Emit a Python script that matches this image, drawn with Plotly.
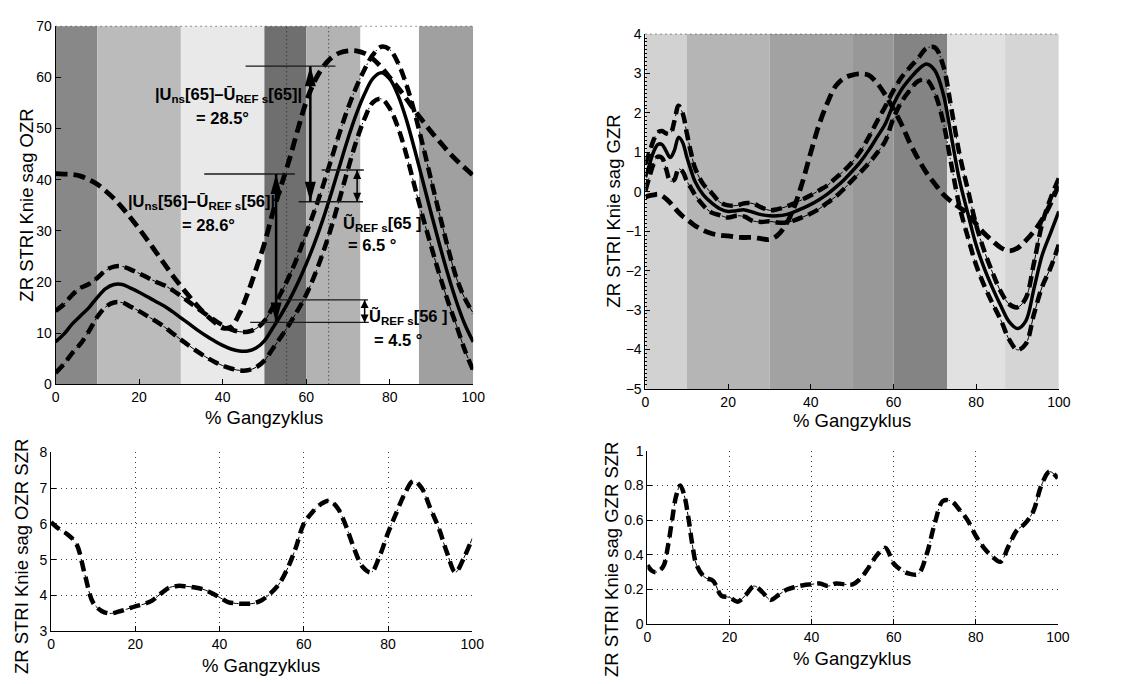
import plotly.graph_objects as go

W, H = 1127, 684
FONT = "Liberation Sans, Arial, Helvetica, sans-serif"

# ------------------------------------------------------------------ data
# left column: knee sagittal OZR (x = % gait cycle)
x_left = list(range(0, 101, 2))
ozr_mean = [8.3, 9.8, 11.8, 13.4, 15.0, 17.0, 18.7, 19.5, 19.5, 18.8,
            18.0, 17.1, 16.2, 15.3, 14.2, 13.0, 11.8, 10.6, 9.5, 8.5,
            7.6, 6.9, 6.5, 6.5, 7.1, 8.5, 11.0, 13.6, 16.5, 19.8,
            23.5, 27.6, 32.2, 37.3, 42.7, 48.0, 52.8, 56.8, 59.8, 60.9,
            59.7, 56.5, 51.7, 45.8, 39.5, 33.2, 27.1, 21.3, 16.1, 11.7, 8.3]
ozr_sd = [6.05, 5.85, 5.7, 5.45, 4.6, 3.8, 3.57, 3.5, 3.55, 3.62,
          3.7, 3.76, 3.86, 4.05, 4.22, 4.27, 4.26, 4.23, 4.18, 4.08,
          3.95, 3.82, 3.78, 3.77, 3.78, 3.87, 4.05, 4.3, 4.72, 5.3,
          6.0, 6.32, 6.55, 6.65, 6.45, 5.95, 5.3, 4.8, 4.65, 5.1,
          5.75, 6.32, 6.85, 7.2, 7.0, 6.45, 5.9, 5.2, 4.65, 5.05, 5.6]
ozr_patient = [41.2, 41.1, 41.0, 40.7, 40.0, 39.1, 37.8, 36.3, 34.5, 32.5,
               30.4, 28.2, 25.9, 23.6, 21.3, 19.2, 17.2, 15.3, 13.6, 12.2,
               11.0, 11.2, 13.8, 17.8, 22.5, 27.5, 33.5, 38.8, 44.0, 49.8,
               55.2, 59.2, 62.0, 63.8, 64.8, 65.2, 65.2, 64.7, 63.6, 62.0,
               60.0, 58.0, 55.8, 53.5, 51.4, 49.3, 47.4, 45.5, 43.8, 42.3, 40.8]

# right column: knee sagittal GZR
x_right = list(range(0, 13)) + list(range(14, 101, 2))
gzr_mean = [0.37, 0.7, 1.02, 1.2, 1.2, 1.03, 0.87, 1.05, 1.38, 1.25, 0.88, 0.55, 0.26,
            -0.08, -0.28, -0.43, -0.5, -0.48, -0.46, -0.52, -0.58, -0.61, -0.61,
            -0.58, -0.51, -0.42, -0.32, -0.2, -0.06, 0.11, 0.3, 0.52, 0.76,
            1.05, 1.38, 1.72, 2.22, 2.6, 2.87, 3.1, 3.24, 3.08, 2.5,
            1.4, 0.28, -0.55, -1.35, -1.95, -2.45, -2.9, -3.3, -3.47, -3.28,
            -2.45, -1.6, -1.05, -0.5]
gzr_sd = [0.34, 0.31, 0.30, 0.31, 0.34, 0.45, 0.6, 0.74, 0.80, 0.74, 0.61, 0.45, 0.34,
          0.27, 0.25, 0.165, 0.155, 0.13, 0.17, 0.22, 0.185, 0.14, 0.17,
          0.2, 0.215, 0.225, 0.23, 0.235, 0.22, 0.235, 0.23, 0.23, 0.265,
          0.33, 0.4, 0.44, 0.35, 0.31, 0.29, 0.29, 0.4, 0.58, 0.71,
          0.71, 0.66, 0.6, 0.51, 0.44, 0.39, 0.36, 0.45, 0.54, 0.58,
          0.65, 0.8, 0.88, 0.84]
gzr_patient = [-0.13, -0.1, -0.08, -0.06, -0.1, -0.18, -0.28, -0.4, -0.52, -0.62, -0.7, -0.78, -0.86,
               -0.98, -1.06, -1.1, -1.12, -1.15, -1.16, -1.16, -1.19, -1.21, -1.1,
               -0.83, -0.38, 0.25, 1.0, 1.7, 2.25, 2.68, 2.88, 2.96, 2.99,
               2.96, 2.76, 2.46, 2.1, 1.7, 1.23, 0.83, 0.48, 0.2, -0.06,
               -0.25, -0.4, -0.56, -0.82, -1.06, -1.25, -1.42, -1.5, -1.43, -1.24,
               -1.0, -0.7, -0.3, 0.18]

# gait phase boundaries (% gait cycle) and their shading
phase_edges = [0, 10, 30, 50, 60, 73, 87, 100]
ozr_phase_colors = ["#888888", "#bbbbbb", "#e9e9e9", "#6f6f6f", "#b3b3b3", "#ffffff", "#a0a0a0"]
gzr_phase_colors = ["#d2d2d2", "#b5b5b5", "#a2a2a2", "#989898", "#848484", "#e1e1e1", "#d5d5d5"]

marker_x = [55.3, 65.4]          # sample positions 56 and 65 (dotted markers)

x_ticks = [0, 20, 40, 60, 80, 100]
x_title = "% Gangzyklus"
y_titles = ["ZR STRI Knie sag OZR", "ZR STRI Knie sag GZR",
            "ZR STRI Knie sag OZR SZR", "ZR STRI Knie sag GZR SZR"]

# ------------------------------------------------------------------ layout helpers
def dom_x(p0, p1):
    return [p0 / W, p1 / W]

def dom_y(top, bottom):
    return [1 - bottom / H, 1 - top / H]

boxes = {  # pixel boxes: left, right, top, bottom
    1: (52.3, 476.0, 18.7, 385.3),
    2: (650.7, 1070.0, 26.7, 390.0),
    3: (47.7, 475.0, 455.0, 638.3),
    4: (652.7, 1069.0, 453.3, 631.0),
}

def ax(**kw):
    d = dict(showline=True, linecolor="black", linewidth=1, ticks="inside", ticklen=5,
             tickcolor="black", tickwidth=1, mirror=False, zeroline=False, showgrid=False,
             tickfont=dict(family=FONT, size=14, color="black"), fixedrange=True)
    d.update(kw)
    return d

grid = dict(showgrid=True, gridcolor="#3a3a3a", gridwidth=1, griddash="1px,4px")

fig = go.Figure()

thick_dash = dict(color="black", width=4.5, dash="11px,6px", shape="spline")
thin_dashdot = dict(color="black", width=1, dash="7px,4px,1.5px,4px", shape="spline")
solid = dict(color="black", width=3.5, shape="spline")

def add_ref(x, mean, sd, patient, n):
    xa, ya = ("x", "y") if n == 1 else (f"x{n}", f"y{n}")
    for sign in (1, -1):
        yb = [m + sign * s for m, s in zip(mean, sd)]
        fig.add_trace(go.Scatter(x=x, y=yb, mode="lines", line=thick_dash, xaxis=xa, yaxis=ya, hoverinfo="skip"))
        fig.add_trace(go.Scatter(x=x, y=yb, mode="lines", line=thin_dashdot, xaxis=xa, yaxis=ya, hoverinfo="skip"))
    fig.add_trace(go.Scatter(x=x, y=patient, mode="lines", line=dict(color="black", width=4.8, dash="12px,6px", shape="spline"),
                             xaxis=xa, yaxis=ya, hoverinfo="skip"))
    fig.add_trace(go.Scatter(x=x, y=mean, mode="lines", line=solid, xaxis=xa, yaxis=ya, hoverinfo="skip"))

def add_sd(x, sd, n):
    xa, ya = f"x{n}", f"y{n}"
    fig.add_trace(go.Scatter(x=x, y=sd, mode="lines", line=thick_dash, xaxis=xa, yaxis=ya, hoverinfo="skip"))
    fig.add_trace(go.Scatter(x=x, y=sd, mode="lines", line=thin_dashdot, xaxis=xa, yaxis=ya, hoverinfo="skip"))

add_ref(x_left, ozr_mean, ozr_sd, ozr_patient, 1)
add_ref(x_right, gzr_mean, gzr_sd, gzr_patient, 2)
add_sd(x_left, ozr_sd, 3)
add_sd(x_right, gzr_sd, 4)

shapes = []
for n, colors in ((1, ozr_phase_colors), (2, gzr_phase_colors)):
    xr = "x" if n == 1 else f"x{n}"
    yr = "y domain" if n == 1 else f"y{n} domain"
    for a, b, c in zip(phase_edges[:-1], phase_edges[1:], colors):
        shapes.append(dict(type="rect", xref=xr, yref=yr, x0=a, x1=b, y0=0, y1=1,
                           fillcolor=c, line=dict(width=0), layer="below"))
    shapes.append(dict(type="line", xref=f"{xr} domain", yref=yr, x0=0, x1=1, y0=1, y1=1,
                       line=dict(color="#333333", width=1, dash="1px,4px"), layer="above"))
for mx in marker_x:
    shapes.append(dict(type="line", xref="x", yref="y domain", x0=mx, x1=mx, y0=0, y1=1,
                       line=dict(color="#222222", width=1, dash="1px,3px"), layer="below"))

# annotation guides (top-left panel)
guide_lines = [(62.2, 45.5, 67.0), (35.7, 58.2, 73.6), (41.9, 63.7, 73.8),
               (41.1, 35.6, 57.3), (16.5, 53.7, 74.8), (12.1, 46.6, 75.0)]
for yv, xa0, xa1 in guide_lines:
    shapes.append(dict(type="line", xref="x", yref="y", x0=xa0, x1=xa1, y0=yv, y1=yv,
                       line=dict(color="#1a1a1a", width=1.4), layer="above"))

arrows = [(61.0, 35.7, 62.2, 20, 5.5, 2.5), (52.8, 12.1, 41.1, 20, 5.5, 2.5),
          (72.2, 35.7, 41.9, 9, 4, 1.5), (74.0, 12.1, 16.5, 8, 4, 1.5)]
for xv, ylo, yhi, hl, hw, lw in arrows:
    shapes.append(dict(type="line", xref="x", yref="y", x0=xv, x1=xv, y0=ylo, y1=yhi,
                       line=dict(color="black", width=lw), layer="above"))
    for yv, s in ((yhi, -1), (ylo, 1)):
        shapes.append(dict(type="path", xref="x", yref="y", xsizemode="pixel", ysizemode="pixel",
                           xanchor=xv, yanchor=yv,
                           path=f"M 0 0 L {-hw} {s*hl} L {hw} {s*hl} Z",
                           fillcolor="black", line=dict(width=0), layer="above"))

annotations = []
def txt(x, y, t, size=16.5):
    annotations.append(dict(x=x, y=y, xref="x", yref="y", text=f"<b>{t}</b>", showarrow=False,
                            font=dict(family=FONT, size=size, color="black"),
                            xanchor="center", yanchor="middle"))

txt(41.3, 56.5, "|U<sub>ns</sub>[65]–Ū<sub>REF s</sub>[65]|")
txt(40.0, 52.0, "= 28.5°")
txt(34.9, 35.7, "|U<sub>ns</sub>[56]–Ū<sub>REF s</sub>[56]|")
txt(36.6, 31.1, "= 28.6°")
txt(78.3, 31.4, "Ũ<sub>REF s</sub>[65 ]")
txt(75.8, 27.3, "= 6.5 °")
txt(84.4, 13.2, "Ũ<sub>REF s</sub>[56 ]")
txt(82.1, 8.6, "= 4.5 °")

def ptitle(px, py, t, angle=0):
    annotations.append(dict(x=px / W, y=1 - py / H, xref="paper", yref="paper", text=t,
                            showarrow=False, textangle=angle, xanchor="center", yanchor="middle",
                            font=dict(family=FONT, size=18.5, color="black")))

ptitle(22.7, 202, y_titles[0], -90)
ptitle(264, 419, x_title)
ptitle(618.3, 208, y_titles[1], -90)
ptitle(860, 422, x_title)
ptitle(18.5, 562, y_titles[2], -90)
ptitle(261, 673, x_title)
ptitle(617, 565, y_titles[3], -90)
ptitle(860, 666, x_title)

b = boxes
fig.update_layout(
    width=W, height=H, margin=dict(l=0, r=0, t=0, b=0),
    paper_bgcolor="white", plot_bgcolor="white", showlegend=False,
    xaxis=ax(domain=dom_x(b[1][0], b[1][1]), range=[0, 100], tickvals=x_ticks, anchor="y"),
    yaxis=ax(domain=dom_y(b[1][2], b[1][3]), range=[0, 70], dtick=10, anchor="x"),
    xaxis2=ax(domain=dom_x(b[2][0], b[2][1]), range=[0, 100], tickvals=x_ticks, anchor="y2"),
    yaxis2=ax(domain=dom_y(b[2][2], b[2][3]), range=[-5, 4], dtick=1, anchor="x2",
              minor=dict(dtick=0.1, ticks="inside", ticklen=2, tickcolor="black", showgrid=False)),
    xaxis3=ax(domain=dom_x(b[3][0], b[3][1]), range=[0, 100], tickvals=x_ticks, anchor="y3", **grid),
    yaxis3=ax(domain=dom_y(b[3][2], b[3][3]), range=[3, 8], dtick=1, anchor="x3", **grid),
    xaxis4=ax(domain=dom_x(b[4][0], b[4][1]), range=[0, 100], tickvals=x_ticks, anchor="y4", **grid),
    yaxis4=ax(domain=dom_y(b[4][2], b[4][3]), range=[0, 1], dtick=0.2, anchor="x4", **grid),
    shapes=shapes, annotations=annotations,
)

fig.write_html("out.html")
